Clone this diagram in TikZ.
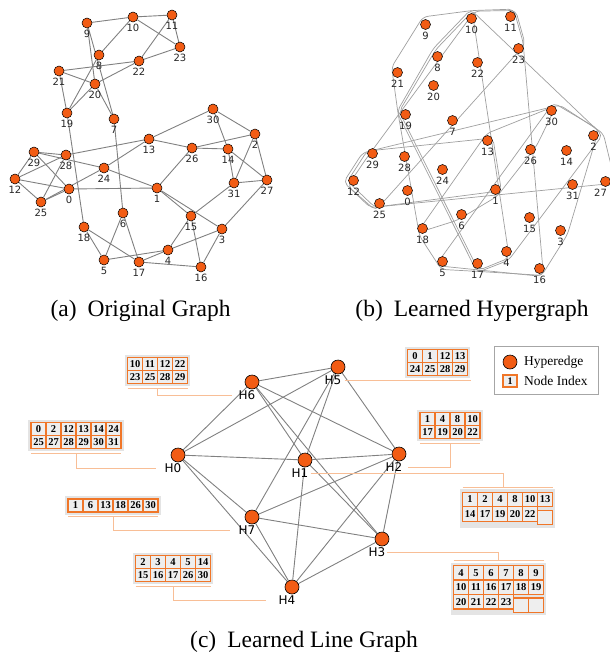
\documentclass[tikz,border=0pt]{standalone}
\usepackage{fontspec}
\setmainfont{Liberation Serif}
\newfontfamily\labfont{DejaVu Sans}
\usetikzlibrary{calc,matrix,backgrounds}
\definecolor{nodeor}{RGB}{242,92,20}
\definecolor{cellor}{RGB}{240,118,40}
\definecolor{leadc}{RGB}{248,190,150}
\definecolor{cellbg}{RGB}{238,238,238}
\definecolor{tabbg}{RGB}{228,228,228}
\tikzset{
  vert/.style={circle, draw=black, line width=0.5pt, fill=nodeor, minimum size=10pt, inner sep=0pt},
  hvert/.style={circle, draw=black, line width=0.6pt, fill=nodeor, minimum size=14pt, inner sep=0pt},
  vlab/.style={inner sep=0pt, font=\labfont\fontsize{10}{10}\selectfont, text=black!85},
  hlab/.style={inner sep=0pt, font=\labfont\fontsize{12}{12}\selectfont},
  aedge/.style={draw=gray, line width=0.9pt},
  hedge/.style={draw=gray, line width=0.9pt},
  hull/.style={draw=gray!75, line width=0.7pt, rounded corners=5pt},
  cell/.style={fill=cellbg, outer sep=0pt, minimum width=15pt, minimum height=13pt, inner sep=0pt, font=\bfseries\fontsize{10.5}{10.5}\selectfont},
  tab/.style={matrix of nodes, nodes in empty cells, inner sep=0pt, outer sep=0pt, column sep=0pt, row sep=0pt, nodes={cell}},
  tall/.style={nodes={minimum height=14.5pt}},
  cellline/.style={draw=cellor, line width=1.3pt},
  leader/.style={draw=leadc, line width=1pt},
  legtext/.style={inner sep=0pt, anchor=west, font=\fontsize{13.5}{14}\selectfont},
  capt/.style={inner sep=0pt, anchor=base, font=\fontsize{23.5}{28}\selectfont}
}
\begin{document}
\begin{tikzpicture}[x=1pt,y=-1pt]
\useasboundingbox (0,0) rectangle (610,653);
\def\gpos{0/69/189,1/157/188,2/255/134,3/222/229,4/168/250,5/104/260,6/123/213,7/114/119,8/99/55,9/87/23,10/133/17,11/172/15,12/15/179,13/149/139,14/228/149,15/191/216,16/201/267,17/139/262,18/84/227,19/67/113,20/95/84,21/59/71,22/139/61,23/180/47,24/104/168,25/41/202,26/192/148,27/267/180,28/66/155,29/34/152,30/213/109,31/234/183}

% ---------- (a) original graph ----------
\foreach \n/\x/\y in \gpos {
  \node[vert] (a\n) at (\x,\y) {};
  \node[vlab] (al\n) at (\x,{\y+11}) {\n};
}
\begin{pgfonlayer}{background}
\foreach \u/\v in {9/10,10/11,10/23,11/23,10/8,11/22,22/23,21/22,20/22,19/20,9/20,9/7,20/7,21/20,21/19,8/19,19/18,7/6,30/13,30/2,30/14,13/26,26/2,26/14,14/31,14/27,2/31,2/27,31/27,31/15,1/26,1/15,1/3,15/4,15/16,3/27,3/4,3/16,4/5,4/17,17/16,18/17,18/5,5/6,6/17,29/28,29/12,29/0,29/24,24/1,12/28,12/0,12/25,25/28,25/0,25/24,0/1,13/24,13/28}
  \draw[aedge] (a\u) -- (a\v);
\end{pgfonlayer}

% ---------- (b) learned hypergraph ----------
\begin{scope}[shift={(338.5,1.5)}]
\foreach \n/\x/\y in {0/69/189,1/157/188,2/255/134,3/222/229,4/168/250,5/104/260,6/123/213,7/114/119,8/99/55,9/87/23,10/133/17,11/172/15,12/15/179,13/149/139,14/228/149,15/191/216,16/201/267,17/139/262,18/84/227,19/67/113,20/95/84,21/59/71,22/139/61,23/180/47,24/104/168,25/41/202,26/192/148,28/66/155,29/34/152,30/213/109,31/234/183} {
  \node[vert] (b\n) at (\x,\y) {};
  \node[vlab] (bl\n) at (\x,{\y+11}) {\n};
}
\node[vert] (b27) at (267,180) {};
\node[vlab] (bl27) at (262,191) {27};
\coordinate (hc0) at (137,159);
\coordinate (hc1) at (143,138);
\coordinate (hc2) at (121,139);
\coordinate (hc3) at (123,130);
\coordinate (hc4) at (189,210);
\coordinate (hc5) at (79,172);
\coordinate (hc6) at (96,102);
\coordinate (hc7) at (153,171);
\end{scope}
\begin{pgfonlayer}{background}
\draw[hull] ($(b9)!-8pt!(hc3)$) -- ($(b10)!-8pt!(hc3)$) -- ($(b11)!-8pt!(hc3)$) -- ($(b23)!-8pt!(hc3)$) -- ($(b16)!-8pt!(hc3)$) -- ($(b17)!-8pt!(hc3)$) -- ($(b5)!-8pt!(hc3)$) -- ($(b18)!-8pt!(hc3)$) -- ($(b19)!-8pt!(hc3)$) -- ($(b21)!-8pt!(hc3)$) -- cycle;
\draw[hull] ($(b12)!-8pt!(hc6)$) -- ($(b29)!-8pt!(hc6)$) -- ($(b10)!-8pt!(hc6)$) -- ($(b11)!-8pt!(hc6)$) -- ($(b23)!-8pt!(hc6)$) -- ($(b25)!-8pt!(hc6)$) -- cycle;
\draw[hull] ($(b12)!-10pt!(hc0)$) -- ($(b29)!-10pt!(hc0)$) -- ($(b30)!-10pt!(hc0)$) -- ($(b2)!-10pt!(hc0)$) -- ($(b27)!-10pt!(hc0)$) -- ($(b25)!-10pt!(hc0)$) -- cycle;
\draw[hull] ($(b12)!-6pt!(hc5)$) -- ($(b29)!-6pt!(hc5)$) -- ($(b13)!-6pt!(hc5)$) -- ($(b1)!-6pt!(hc5)$) -- ($(b25)!-6pt!(hc5)$) -- cycle;
\draw[hull] ($(b10)!-9pt!(hc1)$) -- ($(b2)!-9pt!(hc1)$) -- ($(b4)!-9pt!(hc1)$) -- ($(b17)!-9pt!(hc1)$) -- ($(b19)!-9pt!(hc1)$) -- ($(b8)!-9pt!(hc1)$) -- cycle;
\draw[hull] ($(b10)!-7pt!(hc2)$) -- ($(b4)!-7pt!(hc2)$) -- ($(b17)!-7pt!(hc2)$) -- ($(b19)!-7pt!(hc2)$) -- ($(b8)!-7pt!(hc2)$) -- cycle;
\draw[hull] ($(b13)!-7pt!(hc7)$) -- ($(b30)!-7pt!(hc7)$) -- ($(b26)!-7pt!(hc7)$) -- ($(b1)!-7pt!(hc7)$) -- ($(b6)!-7pt!(hc7)$) -- ($(b18)!-7pt!(hc7)$) -- cycle;
\draw[hull] ($(b30)!-8pt!(hc4)$) -- ($(b2)!-8pt!(hc4)$) -- ($(b3)!-8pt!(hc4)$) -- ($(b16)!-8pt!(hc4)$) -- ($(b17)!-8pt!(hc4)$) -- ($(b5)!-8pt!(hc4)$) -- cycle;
\end{pgfonlayer}

% ---------- (c) learned line graph ----------
\foreach \n/\x/\y in {0/178/455,1/305/460,2/399/454,3/382/539,4/292/587,5/338/367,6/252/382,7/252/517} {
  \node[hvert] (h\n) at (\x,\y) {};
  \node[hlab] (l\n) at ({\x-5},{\y+13}) {H\n};
}
\begin{pgfonlayer}{background}
\foreach \u/\v in {0/6,0/5,0/1,0/7,0/4,6/5,6/2,6/1,6/3,5/1,5/7,5/2,1/2,1/3,1/4,2/7,2/4,2/3,7/3,7/4,3/4}
  \draw[hedge] (h\u) -- (h\v);
\end{pgfonlayer}

\matrix (t6) [tab] at (157.5,370.5) {10 & 11 & 12 & 22\\ 23 & 25 & 28 & 29\\};
\matrix (t0) [tab] at (76,435.5) {0 & 2 & 12 & 13 & 14 & 24\\ 25 & 27 & 28 & 29 & 30 & 31\\};
\matrix (t7) [tab] at (113,505.5) {1 & 6 & 13 & 18 & 26 & 30\\};
\matrix (t4) [tab] at (173,568.5) {2 & 3 & 4 & 5 & 14\\ 15 & 16 & 17 & 26 & 30\\};
\matrix (t5) [tab] at (437.5,362.5) {0 & 1 & 12 & 13\\ 24 & 25 & 28 & 29\\};
\matrix (t2) [tab] at (450,425.5) {1 & 4 & 8 & 10\\ 17 & 19 & 20 & 22\\};
\matrix (t1) [tab,tall] at (507.5,508.5) {1 & 2 & 4 & 8 & 10 & 13\\ 14 & 17 & 19 & 20 & 22 & \\};
\matrix (t3) [tab,tall] at (498.5,589) {4 & 5 & 6 & 7 & 8 & 9\\ 10 & 11 & 16 & 17 & 18 & 19\\ 20 & 21 & 22 & 23 & & \\};

\foreach \t/\nr/\nc in {6/2/4,0/2/6,7/1/6,4/2/5,5/2/4,2/2/4,1/2/6,3/3/6} {
  \foreach \i in {1,...,\nr} {
    \foreach \j in {1,...,\nc} {
      \draw[cellline] (t\t-\i-\j.north west) rectangle (t\t-\i-\j.south east);
    }
  }
  \begin{pgfonlayer}{background}
    \fill[tabbg] ([shift={(-2.8pt,2.8pt)}]t\t.north west) rectangle ([shift={(2.8pt,-2.8pt)}]t\t.south east);
  \end{pgfonlayer}
}

\foreach \t/\l/\g in {6/6/6pt,0/0/8pt,7/7/8pt,4/4/12pt} {
  \draw[leader] ([yshift=-4.5pt]t\t.south west) -- ([yshift=-4.5pt]t\t.south east);
  \draw[leader] ([yshift=-4.5pt]t\t.south) |- ([xshift=-\g]l\l.west);
}
\draw[leader] ([yshift=-4.5pt]t2.south west) -- ([yshift=-4.5pt]t2.south east);
\draw[leader] ([yshift=-4.5pt]t2.south) |- ([xshift=5pt]l2.east);
\draw[leader] ([xshift=3pt]l5.east) -- ([xshift=3pt]l5.east -| t5.east);
\draw[leader] ([yshift=4.5pt]t1.north west) -- ([yshift=4.5pt]t1.north east);
\draw[leader] ([xshift=2pt]l1.east) -| ([yshift=4.5pt,xshift=-4pt]t1.north);
\draw[leader] ([yshift=4.5pt]t3.north west) -- ([yshift=4.5pt]t3.north east);
\draw[leader] ([xshift=1pt]l3.east) -| ([yshift=4.5pt]t3.north);

% legend
\node[draw=gray!70, line width=0.8pt, fill=white, minimum width=104pt, minimum height=48pt, inner sep=0pt] (leg) at (546,370) {};
\node[hvert] (legc) at (510,362) {};
\node[legtext] (legt1) at (524,362) {Hyperedge};
\node[cell, draw=cellor, line width=1.2pt, minimum width=14pt, minimum height=12pt, font=\bfseries\fontsize{10}{10}\selectfont] (legb) at (510,381) {1};
\node[legtext] (legt2) at (524,381) {Node Index};

% captions
\node[capt] (capa) at (140.5,316) {(a)\hspace{11pt}Original Graph};
\node[capt] (capb) at (472,316) {(b)\hspace{11pt}Learned Hypergraph};
\node[capt] (capc) at (304,647) {(c)\hspace{11pt}Learned Line Graph};
\end{tikzpicture}
\end{document}
